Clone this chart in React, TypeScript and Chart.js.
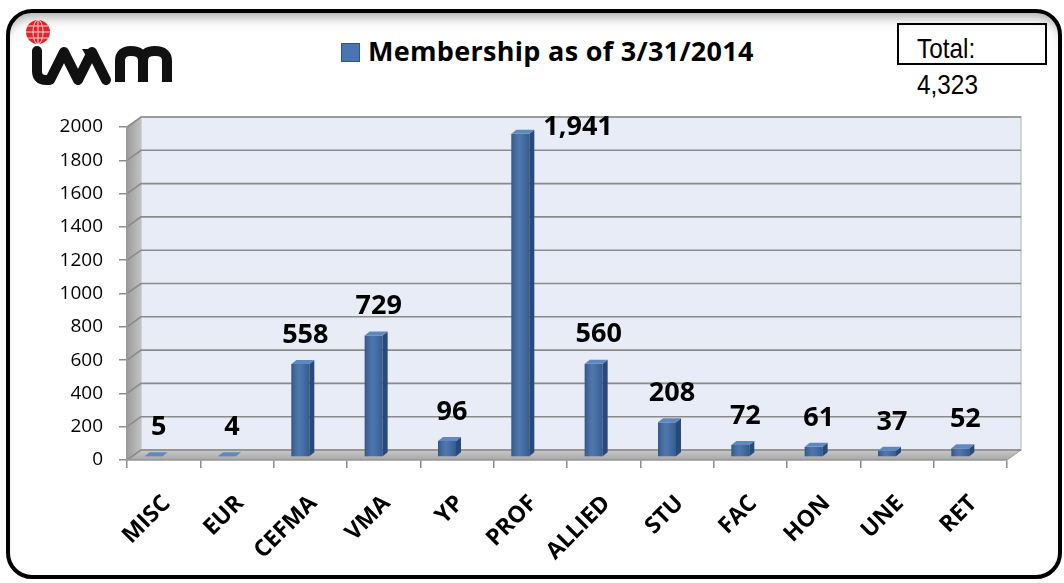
import React, { useEffect, useRef } from "react";
import { Chart, registerables } from "chart.js";

Chart.register(...registerables);

// ---------- data ----------
const categories = ["MISC", "EUR", "CEFMA", "VMA", "YP", "PROF", "ALLIED", "STU", "FAC", "HON", "UNE", "RET"];
const members = [5, 4, 558, 729, 96, 1941, 560, 208, 72, 61, 37, 52];
const valueLabels = ["5", "4", "558", "729", "96", "1,941", "560", "208", "72", "61", "37", "52"];
const seriesName = "Membership as of 3/31/2014";
const totalLabel = "Total:";
const totalValue = "4,323";
const yMin = 0;
const yMax = 2000;
const yStep = 200;

// ---------- style constants ----------
const DEPTH_X = 14;
const DEPTH_Y = -10;
const BAR_SHIFT_X = -10;
const BAR_SHIFT_Y = -3;
const SIDE_X = 5;
const SIDE_Y = -4;
const BAR_FRONT = "#3c68a4";
const BAR_SIDE = "#274a7b";
const BAR_TOP = "#5f88c0";

const walls3d = {
  id: "walls3d",
  beforeDraw(chart: any) {
    const { ctx, scales } = chart;
    const xs = scales.x;
    const ys = scales.y;
    const left = xs.left;
    const right = xs.right;
    const top = ys.getPixelForValue(yMax);
    const bottom = ys.getPixelForValue(yMin);
    ctx.save();
    // back wall
    ctx.fillStyle = "#e8ecf6";
    ctx.fillRect(left + DEPTH_X, top + DEPTH_Y, right - left, bottom - top);
    ctx.strokeStyle = "#c8c8c8";
    ctx.lineWidth = 1.5;
    ctx.strokeRect(left + DEPTH_X, top + DEPTH_Y, right - left, bottom - top);
    // side wall
    const sg = ctx.createLinearGradient(left, 0, left + DEPTH_X, 0);
    sg.addColorStop(0, "#9c9c9c");
    sg.addColorStop(1, "#c2c2c2");
    ctx.fillStyle = sg;
    ctx.beginPath();
    ctx.moveTo(left, top);
    ctx.lineTo(left + DEPTH_X, top + DEPTH_Y);
    ctx.lineTo(left + DEPTH_X, bottom + DEPTH_Y);
    ctx.lineTo(left, bottom);
    ctx.closePath();
    ctx.fill();
    // floor
    const fg = ctx.createLinearGradient(0, bottom + DEPTH_Y, 0, bottom);
    fg.addColorStop(0, "#c9c9c9");
    fg.addColorStop(1, "#a8a8a8");
    ctx.fillStyle = fg;
    ctx.beginPath();
    ctx.moveTo(left, bottom);
    ctx.lineTo(left + DEPTH_X, bottom + DEPTH_Y);
    ctx.lineTo(right + DEPTH_X, bottom + DEPTH_Y);
    ctx.lineTo(right, bottom);
    ctx.closePath();
    ctx.fill();
    ctx.strokeStyle = "#9a9a9a";
    ctx.lineWidth = 1;
    ctx.stroke();
    // gridlines
    ctx.strokeStyle = "#8a8a8a";
    ctx.lineWidth = 1.6;
    for (let v = yMin; v <= yMax; v += yStep) {
      const y = ys.getPixelForValue(v);
      ctx.beginPath();
      ctx.moveTo(left, y);
      ctx.lineTo(left + DEPTH_X, y + DEPTH_Y);
      ctx.lineTo(right + DEPTH_X, y + DEPTH_Y);
      ctx.stroke();
    }
    ctx.restore();
  },
  beforeDatasetsDraw(chart: any) {
    chart.ctx.save();
    chart.ctx.translate(BAR_SHIFT_X, BAR_SHIFT_Y);
  },
  afterDatasetsDraw(chart: any) {
    const { ctx } = chart;
    const meta = chart.getDatasetMeta(0);
    meta.data.forEach((bar: any) => {
      const { x, y, base, width } = bar.getProps(["x", "y", "base", "width"], true);
      const l = x - width / 2;
      const r = x + width / 2;
      // front shading
      const g = ctx.createLinearGradient(l, 0, r, 0);
      g.addColorStop(0, "rgba(0,0,0,0.18)");
      g.addColorStop(0.45, "rgba(255,255,255,0.10)");
      g.addColorStop(1, "rgba(0,0,0,0.12)");
      ctx.fillStyle = g;
      ctx.fillRect(l, y, width, base - y);
      // side face
      ctx.fillStyle = BAR_SIDE;
      ctx.beginPath();
      ctx.moveTo(r, y);
      ctx.lineTo(r + SIDE_X, y + SIDE_Y);
      ctx.lineTo(r + SIDE_X, base + SIDE_Y);
      ctx.lineTo(r, base);
      ctx.closePath();
      ctx.fill();
      // top face
      ctx.fillStyle = BAR_TOP;
      ctx.beginPath();
      ctx.moveTo(l, y);
      ctx.lineTo(l + SIDE_X, y + SIDE_Y);
      ctx.lineTo(r + SIDE_X, y + SIDE_Y);
      ctx.lineTo(r, y);
      ctx.closePath();
      ctx.fill();
    });
    ctx.restore();
  },
  afterDraw(chart: any) {
    const { ctx, chartArea } = chart;
    const meta = chart.getDatasetMeta(0);
    ctx.save();
    ctx.font = "bold 27px 'Open Sans'";
    ctx.fillStyle = "#000";
    ctx.textBaseline = "middle";
    meta.data.forEach((bar: any, i: number) => {
      const { x, y, width } = bar.getProps(["x", "y", "width"], true);
      const bx = x + BAR_SHIFT_X;
      const by = y + BAR_SHIFT_Y;
      if (by - 29 - 12 < chartArea.top) {
        ctx.textAlign = "left";
        ctx.fillText(valueLabels[i], bx + width / 2 + SIDE_X + 9, by - 7);
      } else {
        ctx.textAlign = "center";
        ctx.fillText(valueLabels[i], bx + 5, by - 29);
      }
    });
    ctx.restore();
  },
};

function Logo() {
  return (
    <svg
      width="190"
      height="95"
      style={{ position: "absolute", left: 0, top: 0 }}
      viewBox="0 0 190 95"
    >
      <defs>
        <clipPath id="globeClip">
          <circle cx="38" cy="32" r="12" />
        </clipPath>
      </defs>
      <circle cx="38" cy="32" r="12" fill="#e2262b" />
      <g clipPath="url(#globeClip)" stroke="#ffffff" strokeWidth="1" fill="none" opacity="0.8">
        <line x1="26" y1="26" x2="50" y2="26" />
        <line x1="26" y1="32" x2="50" y2="32" />
        <line x1="26" y1="38" x2="50" y2="38" />
        <ellipse cx="38" cy="32" rx="5" ry="12" />
        <line x1="38" y1="20" x2="38" y2="44" />
      </g>
      <path
        d="M37,51 L37,71 Q37,80 46,80 L50,80 L64,52 L78,80 L92,52 L106,80"
        stroke="#111"
        strokeWidth="10"
        fill="none"
        strokeLinejoin="round"
        strokeLinecap="round"
      />
      <polygon points="64,70 59,81 69,81" fill="#ffffff" />
      <polygon points="82,49 95,49 88,59" fill="#111" />
      <path
        d="M120,82 L120,61 Q120,51 131,51 Q143,51 143,61 L143,82 M143,61 Q143,51 155,51 Q167,51 167,61 L167,82"
        stroke="#111"
        strokeWidth="10"
        fill="none"
        strokeLinejoin="round"
      />
    </svg>
  );
}

const narrowText: React.CSSProperties = {
  position: "absolute",
  left: 917,
  fontFamily: "'Liberation Sans', Arial, sans-serif",
  fontSize: 28,
  lineHeight: "28px",
  whiteSpace: "nowrap",
  transform: "scaleX(0.87)",
  transformOrigin: "left top",
  color: "#000",
};

export default function App() {
  const canvasRef = useRef<HTMLCanvasElement | null>(null);

  useEffect(() => {
    if (!canvasRef.current) return;
    const chart = new Chart(canvasRef.current, {
      type: "bar",
      data: {
        labels: categories,
        datasets: [
          {
            label: seriesName,
            data: members,
            backgroundColor: BAR_FRONT,
            borderWidth: 0,
            barPercentage: 0.245,
            categoryPercentage: 1,
          },
        ],
      },
      options: {
        responsive: false,
        animation: false,
        layout: { padding: { left: 20, right: 57, top: 127, bottom: 0 } },
        plugins: {
          legend: { display: false },
          title: { display: false },
          tooltip: { enabled: false },
        },
        scales: {
          x: {
            afterFit: (s: any) => {
              s.height = 123;
            },
            grid: {
              offset: true,
              drawOnChartArea: false,
              tickLength: 8,
              color: "#8c8c8c",
              lineWidth: 1.5,
            },
            border: { color: "#9a9a9a", width: 1.5 },
            ticks: {
              autoSkip: false,
              maxRotation: 45,
              minRotation: 45,
              padding: 22,
              labelOffset: 3,
              color: "#000",
              font: { family: "'Open Sans'", weight: "bold", size: 23 },
            },
          },
          y: {
            min: yMin,
            max: yMax,
            afterFit: (s: any) => {
              s.width = 107;
            },
            grid: {
              drawOnChartArea: false,
              tickLength: 8,
              color: "#8c8c8c",
              lineWidth: 1.5,
            },
            border: { color: "#9a9a9a", width: 1.5 },
            ticks: {
              stepSize: yStep,
              padding: 16,
              color: "#000",
              font: { family: "'Open Sans'", size: 19 },
              callback: (v: any) => String(v),
            },
          },
        },
      },
      plugins: [walls3d],
    });
    return () => chart.destroy();
  }, []);

  return (
    <div
      style={{
        position: "absolute",
        left: 0,
        top: 0,
        width: 1064,
        height: 583,
        background: "#fff",
        overflow: "hidden",
      }}
    >
      <div
        style={{
          position: "absolute",
          left: 6,
          top: 9,
          width: 1056,
          height: 570,
          boxSizing: "border-box",
          border: "4px solid #000",
          borderRadius: 26,
          boxShadow: "inset 0 12px 12px -8px rgba(0,0,0,0.35)",
        }}
      />
      <Logo />
      <div
        style={{
          position: "absolute",
          left: 341,
          top: 43,
          width: 19,
          height: 19,
          boxSizing: "border-box",
          background: "#4a74b2",
          border: "1px solid #2f5586",
        }}
      />
      <div
        style={{
          position: "absolute",
          left: 368,
          top: 37,
          fontFamily: "'Open Sans', sans-serif",
          fontWeight: "bold",
          fontSize: 27,
          letterSpacing: "0.3px",
          lineHeight: "27px",
          whiteSpace: "nowrap",
          color: "#000",
        }}
      >
        {seriesName}
      </div>
      <div
        style={{
          position: "absolute",
          left: 897,
          top: 23,
          width: 150,
          height: 42,
          boxSizing: "border-box",
          border: "2px solid #000",
        }}
      />
      <div style={{ ...narrowText, top: 35 }}>{totalLabel}</div>
      <div style={{ ...narrowText, top: 71 }}>{totalValue}</div>
      <canvas
        ref={canvasRef}
        width={1064}
        height={583}
        style={{ position: "absolute", left: 0, top: 0, width: 1064, height: 583 }}
      />
    </div>
  );
}
